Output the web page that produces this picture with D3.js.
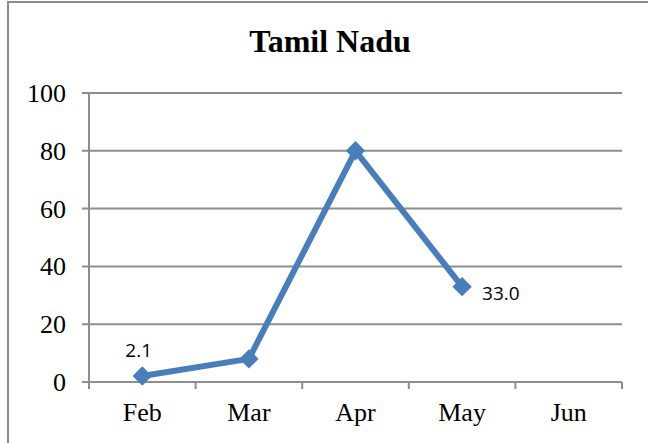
<!DOCTYPE html>
<html>
<head>
<meta charset="utf-8">
<script src="https://cdn.jsdelivr.net/npm/d3@7"></script>
<style>
  html, body { margin: 0; padding: 0; background: #fff; }
  svg { display: block; }
</style>
</head>
<body>
<svg id="chart" width="648" height="443"></svg>
<script>
// chart data
const months = ["Feb", "Mar", "Apr", "May", "Jun"];
const values = [2.1, 8, 80, 33.0, null];
const yTicks = [0, 20, 40, 60, 80, 100];
const labelled = { "Feb": "2.1", "May": "33.0" };

const svg = d3.select("#chart");
const W = 648, H = 443;
const plotL = 89, plotR = 622, plotT = 93, plotB = 382;

// outer frame (only top and left edges fall inside the picture)
svg.append("rect")
    .attr("x", 8).attr("y", 2)
    .attr("width", W + 10).attr("height", H + 10)
    .attr("fill", "none")
    .attr("stroke", "#8c8c8c")
    .attr("stroke-width", 2);

const x = d3.scaleBand().domain(months).range([plotL, plotR]);
const y = d3.scaleLinear().domain([0, 100]).range([plotB, plotT]);
const cx = m => x(m) + x.bandwidth() / 2;

// gridlines
svg.append("g")
    .selectAll("line")
    .data(yTicks)
    .enter().append("line")
    .attr("x1", plotL - 7).attr("x2", plotR)
    .attr("y1", d => y(d)).attr("y2", d => y(d))
    .attr("stroke", "#8e8e8e")
    .attr("stroke-width", 2);

// y axis line
svg.append("line")
    .attr("x1", plotL).attr("x2", plotL)
    .attr("y1", plotT).attr("y2", plotB + 6)
    .attr("stroke", "#8e8e8e").attr("stroke-width", 2);

// x ticks at category boundaries
const bounds = months.map(m => x(m)).concat([plotR]);
svg.append("g")
    .selectAll("line")
    .data(bounds)
    .enter().append("line")
    .attr("x1", d => d).attr("x2", d => d)
    .attr("y1", plotB).attr("y2", plotB + 7)
    .attr("stroke", "#8e8e8e").attr("stroke-width", 2);

// y tick labels
svg.append("g")
    .selectAll("text")
    .data(yTicks)
    .enter().append("text")
    .attr("x", 66)
    .attr("y", d => y(d) + 9)
    .attr("text-anchor", "end")
    .style("font-family", "'Liberation Serif', 'Times New Roman', serif")
    .style("font-size", "26px")
    .text(d => d);

// x labels
svg.append("g")
    .selectAll("text")
    .data(months)
    .enter().append("text")
    .attr("x", d => cx(d))
    .attr("y", 421)
    .attr("text-anchor", "middle")
    .style("font-family", "'Liberation Serif', 'Times New Roman', serif")
    .style("font-size", "26px")
    .text(d => d);

// title
svg.append("text")
    .attr("x", 330).attr("y", 52)
    .attr("text-anchor", "middle")
    .style("font-family", "'Liberation Serif', 'Times New Roman', serif")
    .style("font-size", "32px")
    .style("font-weight", "bold")
    .text("Tamil Nadu");

// line
const pts = months.map((m, i) => ({ m: m, v: values[i] })).filter(d => d.v != null);
const line = d3.line()
    .x(d => cx(d.m))
    .y(d => y(d.v));

svg.append("path")
    .datum(pts)
    .attr("d", line)
    .attr("fill", "none")
    .attr("stroke", "#4a7ebb")
    .attr("stroke-width", 6)
    .attr("stroke-linejoin", "round");

// diamond markers
svg.append("g")
    .selectAll("path")
    .data(pts)
    .enter().append("path")
    .attr("transform", d => `translate(${cx(d.m)},${y(d.v)})`)
    .attr("d", d3.symbol().type(d3.symbolDiamond2).size(240))
    .attr("fill", "#4a7ebb");

// data labels
svg.append("g")
    .selectAll("text")
    .data(pts.filter(d => labelled[d.m]))
    .enter().append("text")
    .attr("x", d => d.m === "Feb" ? cx(d.m) - 17 : cx(d.m) + 20)
    .attr("y", d => d.m === "Feb" ? y(d.v) - 19 : y(d.v) + 13)
    .style("font-family", "'Open Sans', 'Noto Sans', sans-serif")
    .style("font-size", "19px")
    .text(d => labelled[d.m]);
</script>
</body>
</html>
